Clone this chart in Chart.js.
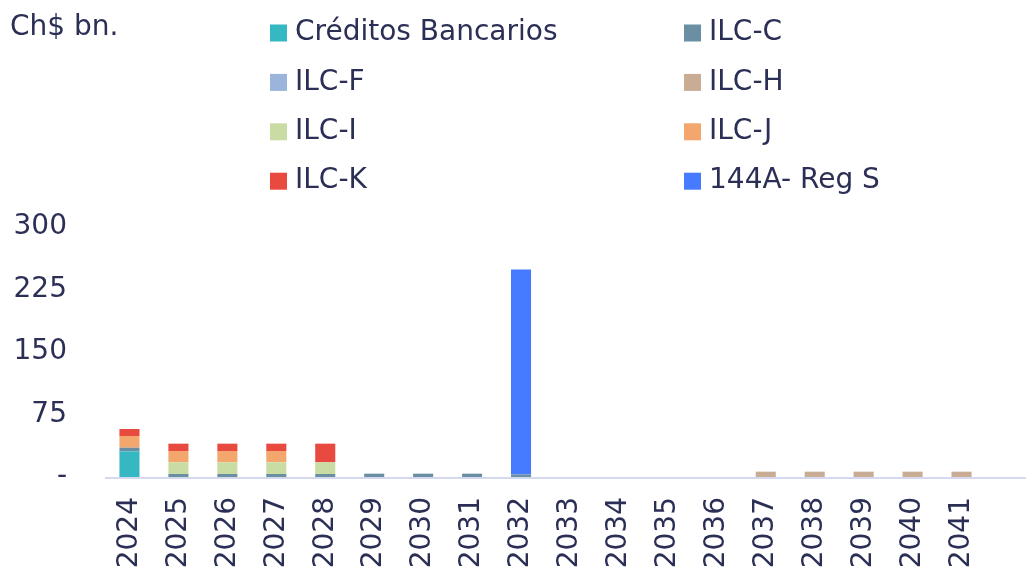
<!DOCTYPE html>
<html>
<head>
<meta charset="utf-8">
<script src="https://cdn.jsdelivr.net/npm/chart.js@4.4.1/dist/chart.umd.min.js"></script>
<style>
  html, body { margin: 0; padding: 0; background: #fff; }
  #wrap { width: 1028px; height: 573px; }
</style>
</head>
<body>
<div id="wrap"><canvas id="chart"></canvas></div>
<script>
var years = ['2024', '2025', '2026', '2027', '2028', '2029', '2030', '2031', '2032',
             '2033', '2034', '2035', '2036', '2037', '2038', '2039', '2040', '2041'];

var creditosBancarios = [30.8, 0, 0, 0, 0, 0, 0, 0, 0, 0, 0, 0, 0, 0, 0, 0, 0, 0];
var ilcC  = [4.4, 3.6, 3.6, 3.6, 3.6, 4, 4, 4, 3, 0, 0, 0, 0, 0, 0, 0, 0, 0];
var ilcF  = [0, 0, 0, 0, 0, 0, 0, 0, 0, 0, 0, 0, 0, 0, 0, 0, 0, 0];
var ilcH  = [0, 0, 0, 0, 0, 0, 0, 0, 0, 0, 0, 0, 0, 6.4, 6.4, 6.4, 6.4, 6.4];
var ilcI  = [0, 14, 14, 14, 14, 0, 0, 0, 0, 0, 0, 0, 0, 0, 0, 0, 0, 0];
var ilcJ  = [14, 13.6, 13.6, 13.6, 0, 0, 0, 0, 0, 0, 0, 0, 0, 0, 0, 0, 0, 0];
var ilcK  = [8.4, 8.8, 8.8, 8.8, 22.4, 0, 0, 0, 0, 0, 0, 0, 0, 0, 0, 0, 0, 0];
var regS  = [0, 0, 0, 0, 0, 0, 0, 0, 246, 0, 0, 0, 0, 0, 0, 0, 0, 0];

var yTicks = [0, 75, 150, 225, 300];
var unitLabel = 'Ch$ bn.';

var textColor = '#2b2f55';
var fontFamily = '"DejaVu Sans", sans-serif';

function ds(label, data, color) {
    return { label: label, data: data, backgroundColor: color, borderWidth: 0,
             barPercentage: 0.41, categoryPercentage: 1 };
}

// legend in two columns + unit label + long base line
var decorPlugin = {
    id: 'decor',
    afterDraw: function (chart) {
        var ctx = chart.ctx;
        var area = chart.chartArea;
        ctx.save();
        ctx.strokeStyle = '#d5d9ef';
        ctx.lineWidth = 2;
        ctx.beginPath();
        ctx.moveTo(area.left, area.bottom + 1);
        ctx.lineTo(chart.width - 2, area.bottom + 1);
        ctx.stroke();

        ctx.fillStyle = textColor;
        ctx.font = '28px ' + fontFamily;
        ctx.textBaseline = 'middle';
        ctx.textAlign = 'left';
        ctx.fillText(unitLabel, 10, 28);

        var cols = [270, 684];
        chart.data.datasets.forEach(function (d, i) {
            var x = cols[i % 2];
            var y = 33 + Math.floor(i / 2) * 49.4;
            ctx.fillStyle = d.backgroundColor;
            ctx.fillRect(x, y - 8.5, 17, 17);
            ctx.fillStyle = textColor;
            ctx.fillText(d.label, x + 25, y);
        });
        ctx.restore();
    }
};

new Chart(document.getElementById('chart').getContext('2d'), {
    type: 'bar',
    data: {
        labels: years,
        datasets: [
            ds('Créditos Bancarios', creditosBancarios, '#35b8c1'),
            ds('ILC-C', ilcC, '#6a8fa3'),
            ds('ILC-F', ilcF, '#9ab4dc'),
            ds('ILC-H', ilcH, '#c8ac94'),
            ds('ILC-I', ilcI, '#c9dca3'),
            ds('ILC-J', ilcJ, '#f3a76d'),
            ds('ILC-K', ilcK, '#e84a3f'),
            ds('144A- Reg S', regS, '#477bff')
        ]
    },
    options: {
        responsive: true,
        maintainAspectRatio: false,
        animation: false,
        layout: { padding: { top: 227, right: 42, left: 0, bottom: 0 } },
        plugins: {
            legend: { display: false },
            tooltip: { enabled: false }
        },
        scales: {
            x: {
                stacked: true,
                grid: { display: false, drawTicks: false },
                border: { display: false },
                ticks: {
                    color: textColor,
                    font: { family: fontFamily, size: 28 },
                    minRotation: 90,
                    maxRotation: 90,
                    autoSkip: false,
                    padding: 20
                },
                afterFit: function (scale) { scale.height = 96; }
            },
            y: {
                stacked: true,
                min: 0,
                max: 300,
                grid: { display: false, drawTicks: false },
                border: { display: false },
                afterBuildTicks: function (scale) {
                    scale.ticks = yTicks.map(function (v) { return { value: v }; });
                },
                ticks: {
                    color: textColor,
                    font: { family: fontFamily, size: 28 },
                    padding: 38,
                    callback: function (v) { return v === 0 ? '-' : v; }
                },
                afterFit: function (scale) { scale.width = 105; }
            }
        }
    },
    plugins: [decorPlugin]
});
</script>
</body>
</html>
